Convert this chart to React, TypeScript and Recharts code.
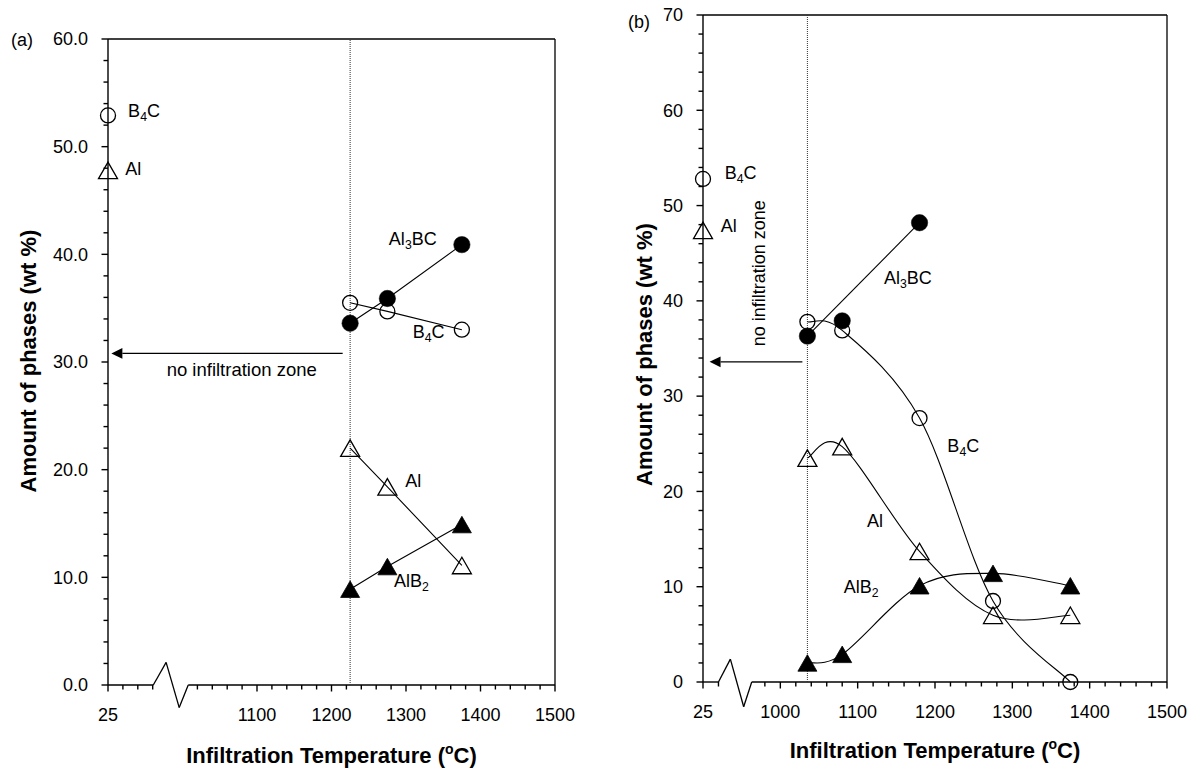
import React from 'react';
import {
  ComposedChart,
  Line,
  Scatter,
  XAxis,
  YAxis,
  ReferenceLine,
  ReferenceDot,
} from 'recharts';

const FONT = '"Liberation Sans", Arial, Helvetica, sans-serif';

// The 25 °C (as-received) samples sit at the start of the broken temperature axis.
const ROOM_T_POS = 900;
const X_MAX = 1500;

// ---------- Panel (a) ----------
const A_ROOM_B4C = [52.9];
const A_ROOM_AL = [47.8];
const A_TEMPS = [1225, 1275, 1375];
const A_AL3BC = [33.6, 35.9, 40.9];
const A_B4C = [35.5, 34.7, 33.0];
const A_AL = [22.0, 18.4, 11.1];
const A_ALB2 = [8.9, 11.0, 14.9];
const A_ZONE_EDGE = 1225;
const A_ARROW_Y = 30.8;

// ---------- Panel (b) ----------
const B_ROOM_B4C = [52.8];
const B_ROOM_AL = [47.4];
const B_TEMPS = [1035, 1080, 1180, 1275, 1375];
const B_AL3BC = [36.3, 37.9, 48.2];
const B_B4C = [37.8, 36.9, 27.7, 8.5, 0.0];
const B_AL = [23.5, 24.7, 13.7, 7.0, 7.0];
const B_ALB2 = [2.0, 2.9, 10.1, 11.4, 10.1];
const B_ZONE_EDGE = 1035;
const B_ARROW_Y = 33.6;

// Tick positions and labels
const range = (from: number, to: number, step: number) => {
  const out: number[] = [];
  for (let v = from; v <= to + 1e-9; v += step) out.push(Math.round(v));
  return out;
};
const A_X_TICKS = [...range(900, 960, 20), ...range(1020, 1500, 20)];
const B_X_TICKS = [900, 920, ...range(980, 1500, 20)];
const A_X_LABELS: Record<number, string> = { 900: '25', 1100: '1100', 1200: '1200', 1300: '1300', 1400: '1400', 1500: '1500' };
const B_X_LABELS: Record<number, string> = { 900: '25', 1000: '1000', 1100: '1100', 1200: '1200', 1300: '1300', 1400: '1400', 1500: '1500' };
const A_Y_TICKS = range(0, 60, 2);
const B_Y_TICKS = range(0, 70, 2);

// Axis-break pieces (x-axis line is drawn in two parts with a zigzag between them)
const A_AXIS_BREAK = [[960.8, 0], [978, 2.1], [995.6, -2.1], [1007.7, 0]];
const B_AXIS_BREAK = [[920, 0], [935.4, 2.4], [952.6, -2.6], [963, 0]];

// Annotation labels; "_" marks the next character as a subscript
const A_NOTES = [
  { t: 927, v: 52.8, text: 'B_4C' },
  { t: 923, v: 47.4, text: 'Al' },
  { t: 1277, v: 40.9, text: 'Al_3BC' },
  { t: 1309, v: 32.2, text: 'B_4C' },
  { t: 1299, v: 18.4, text: 'Al' },
  { t: 1284, v: 9.1, text: 'AlB_2' },
];
const B_NOTES = [
  { t: 928, v: 52.8, text: 'B_4C' },
  { t: 923, v: 47.2, text: 'Al' },
  { t: 1134, v: 41.8, text: 'Al_3BC' },
  { t: 1216, v: 24.1, text: 'B_4C' },
  { t: 1112, v: 16.3, text: 'Al' },
  { t: 1082, v: 9.3, text: 'AlB_2' },
];
const ZONE_TEXT = 'no infiltration zone';

type Pt = { t: number; v: number };
const pts = (temps: number[], vals: number[]): Pt[] => vals.map((v, i) => ({ t: temps[i], v }));
const ends = (p: Pt[]): Pt[] => (p.length > 1 ? [p[0], p[p.length - 1]] : p);

// Smoothed line through every point (cardinal spline, as spreadsheet "smoothed lines")
const smoothCurve = (context: any) => {
  let p: number[][] = [];
  return {
    areaStart() {},
    areaEnd() {},
    lineStart() {
      p = [];
    },
    point(x: number, y: number) {
      p.push([+x, +y]);
    },
    lineEnd() {
      const n = p.length;
      if (!n) return;
      context.moveTo(p[0][0], p[0][1]);
      for (let i = 0; i < n - 1; i++) {
        const p0 = p[Math.max(i - 1, 0)];
        const p1 = p[i];
        const p2 = p[i + 1];
        const p3 = p[Math.min(i + 2, n - 1)];
        context.bezierCurveTo(
          p1[0] + (p2[0] - p0[0]) / 6,
          p1[1] + (p2[1] - p0[1]) / 6,
          p2[0] - (p3[0] - p1[0]) / 6,
          p2[1] - (p3[1] - p1[1]) / 6,
          p2[0],
          p2[1]
        );
      }
    },
  };
};

type MarkerKind = 'circleOpen' | 'circleFilled' | 'triOpen' | 'triFilled';

function Marker({ cx, cy, kind }: { cx?: number; cy?: number; kind: MarkerKind }) {
  if (cx == null || cy == null || isNaN(cx) || isNaN(cy)) return <g />;
  if (kind === 'circleOpen') {
    return <circle cx={cx} cy={cy} r={7.5} fill="none" stroke="#000" strokeWidth={1.3} />;
  }
  if (kind === 'circleFilled') {
    return <circle cx={cx} cy={cy} r={8.2} fill="#000" stroke="#000" strokeWidth={0.5} />;
  }
  const half = 9.5;
  const h = 16.5;
  const d = `M${cx},${cy - h / 2} L${cx + half},${cy + h / 2} L${cx - half},${cy + h / 2} Z`;
  if (kind === 'triOpen') return <path d={d} fill="none" stroke="#000" strokeWidth={1.3} strokeLinejoin="miter" />;
  return <path d={d} fill="#000" stroke="#000" strokeWidth={0.8} />;
}

const dotOf = (kind: MarkerKind) => (p: any) =>
  <Marker key={`m-${kind}-${p.index}`} cx={p.cx} cy={p.cy} kind={kind} />;

function RichText({ x, y, text, size = 18, anchor = 'start' }: { x: number; y: number; text: string; size?: number; anchor?: string }) {
  const parts: { s: string; sub: boolean }[] = [];
  for (let i = 0; i < text.length; i++) {
    if (text[i] === '_' && i + 1 < text.length) {
      parts.push({ s: text[i + 1], sub: true });
      i++;
    } else {
      const last = parts[parts.length - 1];
      if (last && !last.sub) last.s += text[i];
      else parts.push({ s: text[i], sub: false });
    }
  }
  let shift = 0;
  return (
    <text x={x} y={y} dy="0.35em" fontSize={size} fontFamily={FONT} fill="#000" textAnchor={anchor as any}>
      {parts.map((pt, i) => {
        const target = pt.sub ? 4 : 0;
        const dy = target - shift;
        shift = target;
        return (
          <tspan key={i} dy={dy} fontSize={pt.sub ? size * 0.68 : size}>
            {pt.s}
          </tspan>
        );
      })}
    </text>
  );
}

const MINOR_TICK = 4.5;
const MAJOR_TICK = 6.5;
const TICK_WIDTH = 1.4;
const Y_LABEL_GAP = 20;

// Tick labels only; the tick marks themselves are drawn as reference marks on the axes
function YTickLabel(props: any) {
  const { payload, decimals } = props;
  const x = Number(props.x);
  const y = Number(props.y);
  const v = Number(payload.value);
  if (v % 10 !== 0) return <g />;
  return (
    <text x={x} y={y} dy="0.35em" textAnchor="end" fontSize={18} fontFamily={FONT} fill="#000">
      {v.toFixed(decimals)}
    </text>
  );
}

function XTickLabel(props: any) {
  const { payload, labels } = props;
  const x = Number(props.x);
  const y = Number(props.y);
  const label = labels[Number(payload.value)];
  if (!label) return <g />;
  return (
    <text x={x} y={y + 35.5} textAnchor="middle" fontSize={18} fontFamily={FONT} fill="#000">
      {label}
    </text>
  );
}

function ArrowShape(props: any) {
  const { x1, y1, x2, y2 } = props;
  const len = 11;
  const half = 5.3;
  const dx = x2 - x1;
  const dy = y2 - y1;
  const L = Math.hypot(dx, dy) || 1;
  const ux = dx / L;
  const uy = dy / L;
  const bx = x2 - ux * len;
  const by = y2 - uy * len;
  const head = `M${x2},${y2} L${bx - uy * half},${by + ux * half} L${bx + uy * half},${by - ux * half} Z`;
  return (
    <g>
      <line x1={x1} y1={y1} x2={bx} y2={by} stroke="#000" strokeWidth={1.2} />
      <path d={head} fill="#000" />
    </g>
  );
}

type PanelCfg = {
  left: number;
  width: number;
  margin: { top: number; right: number; bottom: number; left: number };
  yMax: number;
  yTicks: number[];
  decimals: number;
  xTicks: number[];
  xLabels: Record<number, string>;
  axisBreak: number[][];
  zoneEdge: number;
  arrowY: number;
  arrowFrom: number;
  arrowTo: number;
  zoneText: { t: number; v: number; vertical: boolean };
  notes: { t: number; v: number; text: string }[];
  roomB4C: number[];
  roomAl: number[];
  temps: number[];
  al3bc: number[];
  al3bcEndsOnly: boolean;
  b4c: number[];
  al: number[];
  alb2: number[];
  curve: any;
  yTitleX: number;
  yTitleShift: number;
  xTitleDy: number;
};

function Panel({ cfg }: { cfg: PanelCfg }) {
  const b = cfg.axisBreak;
  const xTitle = (p: any) => {
    const vb = p.viewBox || {};
    return (
      <text x={vb.x + vb.width / 2} y={vb.y + cfg.xTitleDy} textAnchor="middle" fontSize={22} fontWeight="bold" fontFamily={FONT} fill="#000">
        Infiltration Temperature (
        <tspan dy={-9} fontSize={14}>o</tspan>
        <tspan dy={9}>C)</tspan>
      </text>
    );
  };
  const yTitle = (p: any) => {
    const vb = p.viewBox || {};
    const cx = vb.x + cfg.yTitleX;
    const cy = vb.y + vb.height / 2 + cfg.yTitleShift;
    return (
      <text x={cx} y={cy} dy="0.35em" transform={`rotate(-90 ${cx} ${cy})`} textAnchor="middle" fontSize={22} fontWeight="bold" fontFamily={FONT} fill="#000">
        Amount of phases (wt %)
      </text>
    );
  };
  const lineProps = { dataKey: 'v', stroke: '#000', strokeWidth: 1.1, isAnimationActive: false, activeDot: false as any, legendType: 'none' as any };
  const al3bcPts = pts(cfg.temps, cfg.al3bc);
  return (
    <div style={{ position: 'absolute', left: cfg.left, top: 0 }}>
      <ComposedChart width={cfg.width} height={770} margin={cfg.margin}>
        <XAxis
          type="number"
          dataKey="t"
          domain={[ROOM_T_POS, X_MAX]}
          ticks={cfg.xTicks}
          interval={0}
          height={40}
          tickSize={0}
          tickMargin={0}
          tickLine={false}
          axisLine={false}
          tick={(p: any) => <XTickLabel {...p} labels={cfg.xLabels} />}
          label={xTitle}
        />
        <YAxis
          type="number"
          dataKey="v"
          domain={[0, cfg.yMax]}
          ticks={cfg.yTicks}
          interval={0}
          width={108}
          tickSize={0}
          tickMargin={Y_LABEL_GAP}
          tickLine={false}
          axisLine={{ stroke: '#000', strokeWidth: 1.4 }}
          tick={(p: any) => <YTickLabel {...p} decimals={cfg.decimals} />}
          label={yTitle}
        />

        {/* frame: top and right edges */}
        <ReferenceLine y={cfg.yMax} stroke="#000" strokeWidth={1.3} ifOverflow="visible" />
        <ReferenceLine x={X_MAX} stroke="#000" strokeWidth={1.3} ifOverflow="visible" />

        {/* broken x-axis line */}
        <ReferenceLine segment={[{ x: ROOM_T_POS, y: 0 }, { x: b[0][0], y: 0 }]} stroke="#000" strokeWidth={1.4} ifOverflow="visible" />
        <ReferenceLine segment={[{ x: b[0][0], y: b[0][1] }, { x: b[1][0], y: b[1][1] }]} stroke="#000" strokeWidth={1.3} ifOverflow="visible" />
        <ReferenceLine segment={[{ x: b[1][0], y: b[1][1] }, { x: b[2][0], y: b[2][1] }]} stroke="#000" strokeWidth={1.3} ifOverflow="visible" />
        <ReferenceLine segment={[{ x: b[2][0], y: b[2][1] }, { x: b[3][0], y: b[3][1] }]} stroke="#000" strokeWidth={1.3} ifOverflow="visible" />
        <ReferenceLine segment={[{ x: b[3][0], y: 0 }, { x: X_MAX, y: 0 }]} stroke="#000" strokeWidth={1.4} ifOverflow="visible" />

        {/* tick marks: temperature axis (down) and amount axis (left) */}
        {cfg.xTicks.map((t) => (
          <ReferenceDot
            key={`xt-${t}`}
            x={t}
            y={0}
            r={0}
            ifOverflow="visible"
            shape={(p: any) => (
              <line x1={p.cx} x2={p.cx} y1={p.cy} y2={p.cy + (t % 100 === 0 ? MAJOR_TICK : MINOR_TICK)} stroke="#000" strokeWidth={TICK_WIDTH} />
            )}
          />
        ))}
        {cfg.yTicks.map((v) => (
          <ReferenceDot
            key={`yt-${v}`}
            x={ROOM_T_POS}
            y={v}
            r={0}
            ifOverflow="visible"
            shape={(p: any) => (
              <line x1={p.cx} x2={p.cx - (v % 10 === 0 ? MAJOR_TICK : MINOR_TICK)} y1={p.cy} y2={p.cy} stroke="#000" strokeWidth={TICK_WIDTH} />
            )}
          />
        ))}

        {/* onset of infiltration */}
        <ReferenceLine x={cfg.zoneEdge} stroke="#333" strokeWidth={1} strokeDasharray="1 1" ifOverflow="visible" />
        <ReferenceLine
          segment={[{ x: cfg.arrowFrom, y: cfg.arrowY }, { x: cfg.arrowTo, y: cfg.arrowY }]}
          ifOverflow="visible"
          shape={(p: any) => <ArrowShape {...p} />}
        />
        <ReferenceDot
          x={cfg.zoneText.t}
          y={cfg.zoneText.v}
          r={0}
          ifOverflow="visible"
          shape={(p: any) =>
            cfg.zoneText.vertical ? (
              <text x={p.cx} y={p.cy} dy="0.35em" transform={`rotate(-90 ${p.cx} ${p.cy})`} textAnchor="middle" fontSize={18} fontFamily={FONT} fill="#000">
                {ZONE_TEXT}
              </text>
            ) : (
              <text x={p.cx} y={p.cy} dy="0.35em" textAnchor="middle" fontSize={18.5} fontFamily={FONT} fill="#000">
                {ZONE_TEXT}
              </text>
            )
          }
        />

        {/* phase amounts */}
        <Line {...lineProps} data={pts(cfg.temps, cfg.b4c)} type={cfg.curve} dot={dotOf('circleOpen')} />
        <Line {...lineProps} data={pts(cfg.temps, cfg.al)} type={cfg.curve} dot={dotOf('triOpen')} />
        {cfg.al3bcEndsOnly ? (
          <Line {...lineProps} data={ends(al3bcPts)} type="linear" dot={false} />
        ) : null}
        <Line
          {...lineProps}
          data={al3bcPts}
          type={cfg.curve}
          stroke={cfg.al3bcEndsOnly ? 'none' : '#000'}
          dot={dotOf('circleFilled')}
        />
        <Line {...lineProps} data={pts(cfg.temps, cfg.alb2)} type={cfg.curve} dot={dotOf('triFilled')} />

        {/* as-received composition at 25 °C */}
        <Scatter data={cfg.roomB4C.map((v) => ({ t: ROOM_T_POS, v }))} isAnimationActive={false} shape={(p: any) => <Marker cx={p.cx} cy={p.cy} kind="circleOpen" />} />
        <Scatter data={cfg.roomAl.map((v) => ({ t: ROOM_T_POS, v }))} isAnimationActive={false} shape={(p: any) => <Marker cx={p.cx} cy={p.cy} kind="triOpen" />} />

        {cfg.notes.map((n, i) => (
          <ReferenceDot
            key={`note-${i}`}
            x={n.t}
            y={n.v}
            r={0}
            ifOverflow="visible"
            shape={(p: any) => <RichText x={p.cx} y={p.cy} text={n.text} />}
          />
        ))}
      </ComposedChart>
    </div>
  );
}

const PANEL_A: PanelCfg = {
  left: 0,
  width: 590,
  margin: { top: 39, right: 35, bottom: 45, left: 0 },
  yMax: 60,
  yTicks: A_Y_TICKS,
  decimals: 1,
  xTicks: A_X_TICKS,
  xLabels: A_X_LABELS,
  axisBreak: A_AXIS_BREAK,
  zoneEdge: A_ZONE_EDGE,
  arrowY: A_ARROW_Y,
  arrowFrom: 1215,
  arrowTo: 904.5,
  zoneText: { t: 1079.5, v: 29.3, vertical: false },
  notes: A_NOTES,
  roomB4C: A_ROOM_B4C,
  roomAl: A_ROOM_AL,
  temps: A_TEMPS,
  al3bc: A_AL3BC,
  al3bcEndsOnly: false,
  b4c: A_B4C,
  al: A_AL,
  alb2: A_ALB2,
  curve: 'linear',
  yTitleX: 28,
  yTitleShift: -1,
  xTitleDy: 78,
};

const PANEL_B: PanelCfg = {
  left: 595,
  width: 599,
  margin: { top: 15, right: 27, bottom: 48, left: 0 },
  yMax: 70,
  yTicks: B_Y_TICKS,
  decimals: 0,
  xTicks: B_X_TICKS,
  xLabels: B_X_LABELS,
  axisBreak: B_AXIS_BREAK,
  zoneEdge: B_ZONE_EDGE,
  arrowY: B_ARROW_Y,
  arrowFrom: 1028.5,
  arrowTo: 908.5,
  zoneText: { t: 972, v: 42.9, vertical: true },
  notes: B_NOTES,
  roomB4C: B_ROOM_B4C,
  roomAl: B_ROOM_AL,
  temps: B_TEMPS,
  al3bc: B_AL3BC,
  al3bcEndsOnly: true,
  b4c: B_B4C,
  al: B_AL,
  alb2: B_ALB2,
  curve: smoothCurve,
  yTitleX: 49.5,
  yTitleShift: 6,
  xTitleDy: 76,
};

export default function App() {
  return (
    <div style={{ position: 'absolute', left: 0, top: 0, width: 1194, height: 770, background: '#fff', overflow: 'hidden' }}>
      <Panel cfg={PANEL_A} />
      <Panel cfg={PANEL_B} />
      <svg width={1194} height={770} style={{ position: 'absolute', left: 0, top: 0, pointerEvents: 'none' }}>
        <text x={11} y={40} dy="0.35em" fontSize={18} fontFamily={FONT} fill="#000">(a)</text>
        <text x={628} y={22} dy="0.35em" fontSize={18} fontFamily={FONT} fill="#000">(b)</text>
      </svg>
    </div>
  );
}
